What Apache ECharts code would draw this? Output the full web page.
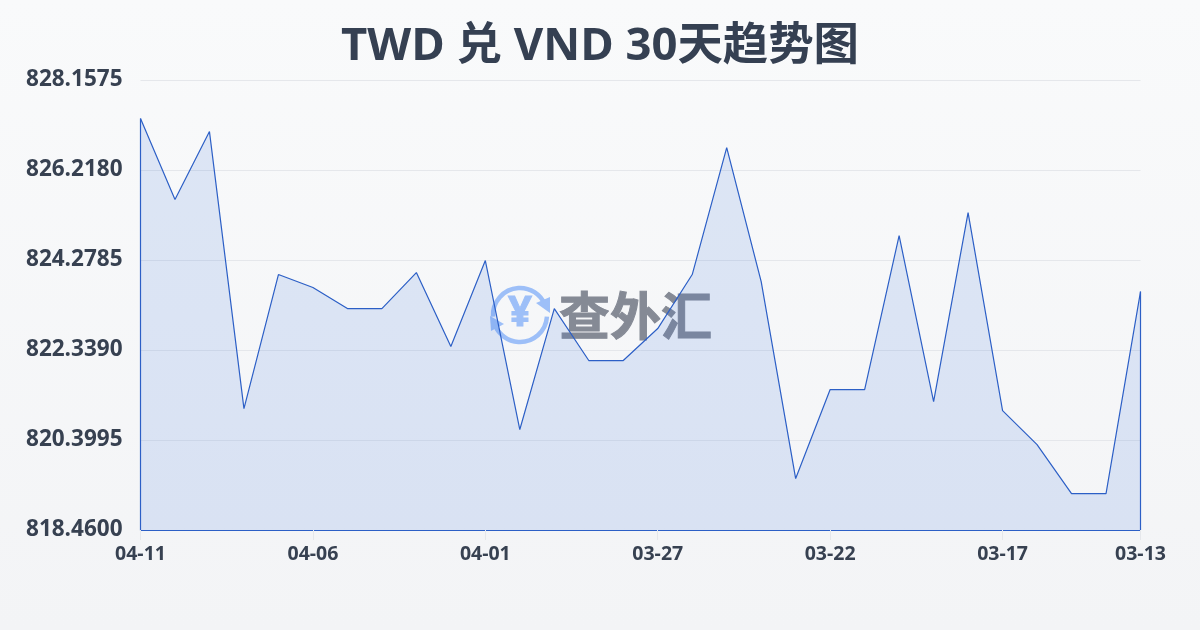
<!DOCTYPE html>
<html>
<head>
<meta charset="utf-8">
<style>
  html, body { margin: 0; padding: 0; }
  #chart { width: 1200px; height: 630px; }
</style>
<script src="https://cdn.jsdelivr.net/npm/echarts@6/dist/echarts.min.js"></script>
</head>
<body>
<div id="chart"></div>
<script>
const titleText = 'TWD 兑 VND 30天趋势图'
const dates = [
  '04-11', '04-10', '04-09', '04-08', '04-07', '04-06', '04-05', '04-04', '04-03', '04-02',
  '04-01', '03-31', '03-30', '03-29', '03-28', '03-27', '03-26', '03-25', '03-24', '03-23',
  '03-22', '03-21', '03-20', '03-19', '03-18', '03-17', '03-16', '03-15', '03-14', '03-13'
]
const rates = [
  827.327, 825.581, 827.046, 821.077, 823.965, 823.685, 823.232, 823.232, 824.008, 822.413,
  824.267, 820.625, 823.232, 822.112, 822.112, 822.801, 823.965, 826.702, 823.814, 819.569,
  821.487, 821.487, 824.805, 821.228, 825.301, 821.034, 820.301, 819.245, 819.245, 823.599
]
const yTicks = [818.46, 820.3995, 822.339, 824.2785, 826.218, 828.1575]
const xLabelIndexes = [0, 5, 10, 15, 20, 25, 29]

const fontFamily = '"Open Sans", "Noto Sans CJK SC", sans-serif'
const lineColor = '#2c5fc6'
const ringColor = '#9dbff8'
const textColor = '#374151'

const showXTick = idx => xLabelIndexes.includes(idx)
const yMin = yTicks[0]
const yMax = yTicks[yTicks.length - 1]
const lastIdx = dates.length - 1

const chart = echarts.init(document.getElementById('chart'))
chart.setOption({
  animation: false,
  backgroundColor: {
    type: 'linear', x: 0, y: 0, x2: 0, y2: 1,
    colorStops: [
      { offset: 0, color: '#f9fafb' },
      { offset: 1, color: '#f3f4f6' }
    ]
  },
  title: {
    text: titleText,
    left: 'center',
    top: 19,
    textStyle: { fontFamily, fontSize: 45.4, fontWeight: 'bold', color: '#354052' }
  },
  grid: { left: 140.5, right: 59.5, top: 80, bottom: 100 },
  xAxis: {
    type: 'category',
    data: dates,
    boundaryGap: false,
    axisLine: { lineStyle: { color: lineColor, width: 1.2 } },
    axisTick: { interval: showXTick, length: 10, lineStyle: { color: '#e5e7eb' } },
    axisLabel: {
      interval: showXTick,
      margin: 15,
      fontFamily,
      fontSize: 19.5,
      fontWeight: 'bold',
      color: textColor
    },
    splitLine: { show: false }
  },
  yAxis: {
    type: 'value',
    min: yMin,
    max: yMax,
    axisLine: { show: false },
    axisTick: { show: false, customValues: yTicks },
    axisLabel: {
      customValues: yTicks,
      formatter: v => v.toFixed(4),
      margin: 18,
      fontFamily,
      fontSize: 22.5,
      fontWeight: 'bold',
      color: textColor,
      padding: [0, 0, 4, 0]
    },
    splitLine: { lineStyle: { color: '#e5e7eb', width: 1 } }
  },
  series: [
    {
      type: 'line',
      data: rates,
      showSymbol: false,
      smooth: false,
      z: 3,
      lineStyle: { color: lineColor, width: 1.2 },
      areaStyle: { color: 'rgba(59,110,220,0.2)' },
      markLine: {
        silent: true,
        symbol: 'none',
        label: { show: false },
        lineStyle: { color: lineColor, width: 1.2, type: 'solid' },
        data: [
          [{ xAxis: dates[0], yAxis: yMin }, { xAxis: dates[0], yAxis: rates[0] }],
          [{ xAxis: dates[lastIdx], yAxis: yMin }, { xAxis: dates[lastIdx], yAxis: rates[lastIdx] }]
        ]
      }
    }
  ],
  // 水印 logo
  graphic: [
    {
      type: 'arc', z: 1,
      shape: { cx: 520, cy: 315, r: 27, startAngle: Math.PI * 0.98, endAngle: Math.PI * 1.88 },
      style: { stroke: ringColor, lineWidth: 4.5, fill: null }
    },
    {
      type: 'arc', z: 1,
      shape: { cx: 520, cy: 315, r: 27, startAngle: Math.PI * 0.02, endAngle: Math.PI * 0.88 },
      style: { stroke: ringColor, lineWidth: 4.5, fill: null }
    },
    {
      type: 'polygon', z: 1,
      shape: { points: [[536, 303], [550, 297], [550, 313]] },
      style: { fill: ringColor }
    },
    {
      type: 'polygon', z: 1,
      shape: { points: [[490, 316], [504, 324], [491, 331]] },
      style: { fill: ringColor }
    },
    {
      type: 'text', z: 1,
      style: {
        x: 520, y: 314, text: '¥', align: 'center', verticalAlign: 'middle',
        fontFamily, fontSize: 42, fontWeight: 'bold', fill: ringColor,
        stroke: ringColor, lineWidth: 1
      }
    },
    {
      type: 'text', z: 1,
      style: {
        x: 559, y: 316, text: '查外汇', align: 'left', verticalAlign: 'middle',
        fontFamily: '"Noto Sans CJK SC", sans-serif', fontSize: 51, fontWeight: 'bold',
        fill: '#858a95', stroke: '#858a95', lineWidth: 1
      }
    }
  ]
})
</script>
</body>
</html>
